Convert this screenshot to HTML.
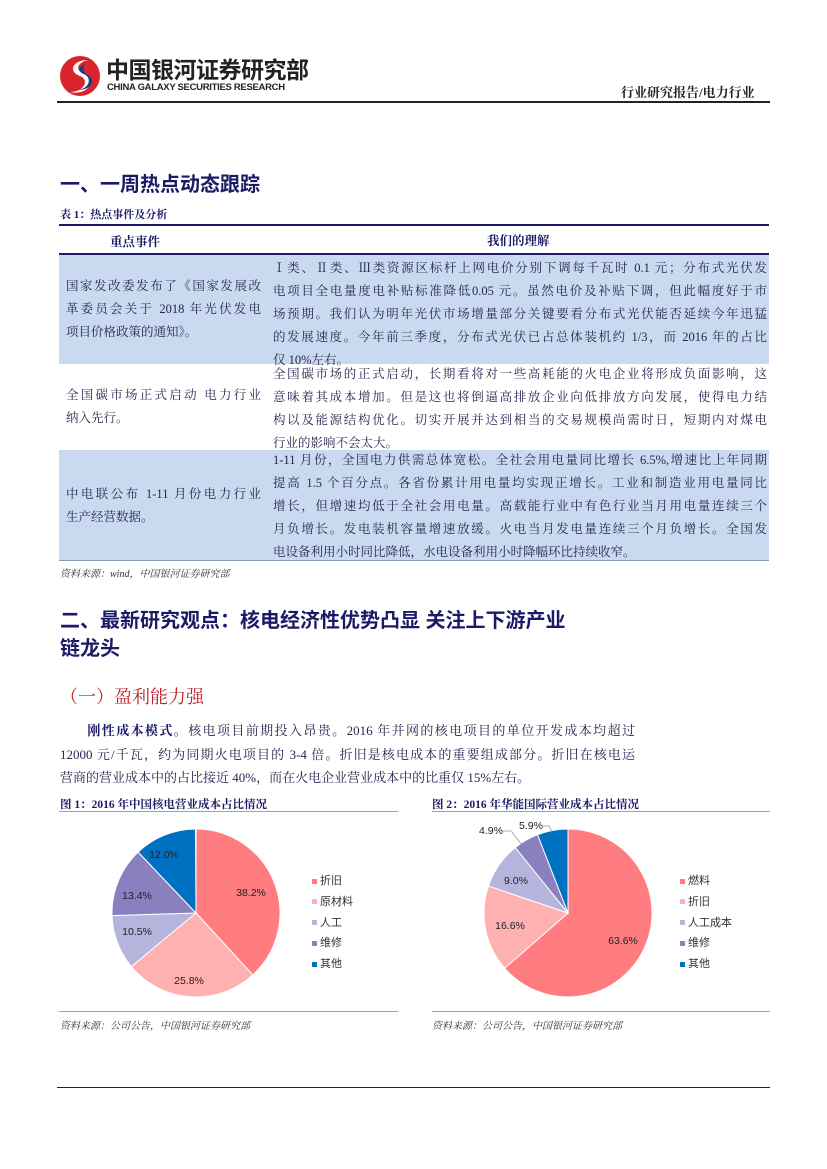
<!DOCTYPE html>
<html><head><meta charset="utf-8">
<style>
body{margin:0;background:#fff;}
#p{position:relative;width:827px;height:1169px;overflow:hidden;font-family:"Liberation Serif","Noto Serif CJK SC","Noto Sans CJK SC",serif;color:#26264f;}
.a{position:absolute;white-space:nowrap;}
.h1{font-family:"Liberation Sans","Noto Sans CJK SC",sans-serif;font-weight:bold;font-size:20px;color:#1a1a66;}
.cell{position:absolute;font-size:12.5px;line-height:23px;text-align:justify;text-align-last:justify;white-space:normal;}
.cell span{display:block;}
.src{font-size:10px;font-style:italic;color:#333;}
.ct{font-size:11.5px;font-weight:bold;color:#1a1a66;}
.lg{font-family:"Liberation Sans","Noto Sans CJK SC",sans-serif;font-size:11px;color:#333;}
</style></head><body><div id="p">
<!-- header -->
<svg class="a" style="left:58px;top:54px" width="44" height="44" viewBox="0 0 44 44">
<ellipse cx="22" cy="22" rx="20" ry="20" fill="#d8242c"/>
<path d="M30 6 C14 6 10 18 22 22 C32 26 26 38 12 38 C30 42 40 26 26 20 C16 16 20 8 30 6Z" fill="#fff"/>
<path d="M28 10 C20 12 20 18 26 20 C34 24 32 34 20 36 C34 36 38 26 30 21 C24 18 24 12 28 10Z" fill="#1a3a8c"/>
</svg>
<div class="a" style="left:106px;top:57px;line-height:26px;font-family:'Liberation Sans','Noto Sans CJK SC',sans-serif;font-weight:bold;font-size:23px;color:#222;letter-spacing:-0.5px">中国银河证券研究部</div>
<div class="a" style="left:107px;top:82px;line-height:11px;font-family:'Liberation Sans',sans-serif;font-weight:bold;font-size:9.5px;color:#222;letter-spacing:-0.3px">CHINA GALAXY SECURITIES RESEARCH</div>
<div class="a" style="left:621px;top:82px;font-weight:bold;font-size:13px;color:#222">行业研究报告/电力行业</div>
<div class="a" style="left:57px;top:101px;width:713px;height:2px;background:#222"></div>

<div class="a h1" style="left:60px;top:168px">一、一周热点动态跟踪</div>
<div class="a" style="left:60px;top:206px;font-size:11px;font-weight:bold;color:#1a1a66">表 1：热点事件及分析</div>
<div class="a" style="left:59px;top:224px;width:710px;height:2px;background:#1a1a66"></div>
<div class="a" style="left:110px;top:232px;font-size:12.5px;font-weight:bold;color:#1a1a66">重点事件</div>
<div class="a" style="left:487px;top:231px;font-size:12.5px;font-weight:bold;color:#1a1a66">我们的理解</div>
<div class="a" style="left:59px;top:253px;width:710px;height:2px;background:#1a1a66"></div>
<div class="a" style="left:59px;top:255px;width:710px;height:109px;background:#c9d9ef"></div>
<div class="a" style="left:59px;top:450px;width:710px;height:110px;background:#c9d9ef"></div>
<div class="a" style="left:59px;top:560px;width:710px;height:1px;background:#8899bb"></div>

<div class="cell" style="left:66px;top:275px;width:195px"><span>国家发改委发布了《国家发展改</span><span>革委员会关于 2018 年光伏发电</span><span style="text-align-last:left">项目价格政策的通知》。</span></div>
<div class="cell" style="left:273px;top:257px;width:494px"><span>Ⅰ类、Ⅱ类、Ⅲ类资源区标杆上网电价分别下调每千瓦时 0.1 元；分布式光伏发</span><span>电项目全电量度电补贴标准降低0.05 元。虽然电价及补贴下调，但此幅度好于市</span><span>场预期。我们认为明年光伏市场增量部分关键要看分布式光伏能否延续今年迅猛</span><span>的发展速度。今年前三季度，分布式光伏已占总体装机约 1/3，而 2016 年的占比</span><span style="text-align-last:left">仅 10%左右。</span></div>

<div class="cell" style="left:66px;top:384px;width:195px"><span>全国碳市场正式启动  电力行业</span><span style="text-align-last:left">纳入先行。</span></div>
<div class="cell" style="left:273px;top:363px;width:494px"><span>全国碳市场的正式启动，长期看将对一些高耗能的火电企业将形成负面影响，这</span><span>意味着其成本增加。但是这也将倒逼高排放企业向低排放方向发展，使得电力结</span><span>构以及能源结构优化。切实开展并达到相当的交易规模尚需时日，短期内对煤电</span><span style="text-align-last:left">行业的影响不会太大。</span></div>

<div class="cell" style="left:66px;top:483px;width:195px"><span>中电联公布 1-11 月份电力行业</span><span style="text-align-last:left">生产经营数据。</span></div>
<div class="cell" style="left:273px;top:449px;width:494px"><span>1-11 月份，全国电力供需总体宽松。全社会用电量同比增长 6.5%,增速比上年同期</span><span>提高 1.5 个百分点。各省份累计用电量均实现正增长。工业和制造业用电量同比</span><span>增长，但增速均低于全社会用电量。高载能行业中有色行业当月用电量连续三个</span><span>月负增长。发电装机容量增速放缓。火电当月发电量连续三个月负增长。全国发</span><span style="text-align-last:left">电设备利用小时同比降低，水电设备利用小时降幅环比持续收窄。</span></div>
<div class="a src" style="left:60px;top:565px">资料来源：wind，中国银河证券研究部</div>

<div class="a h1" style="left:60px;top:604px">二、最新研究观点：核电经济性优势凸显  关注上下游产业</div>
<div class="a h1" style="left:60px;top:632px">链龙头</div>
<div class="a" style="left:60px;top:683px;font-size:18px;color:#c0202a">（一）盈利能力强</div>
<div class="a" style="left:60px;top:719px;width:575px;font-size:13px;line-height:23.5px;white-space:normal;text-align:justify">
<span style="display:block;text-align-last:justify">&emsp;&emsp;<b style="color:#1a1a66">刚性成本模式。</b>核电项目前期投入昂贵。2016 年并网的核电项目的单位开发成本均超过</span>
<span style="display:block;text-align-last:justify">12000 元/千瓦，约为同期火电项目的 3-4 倍。折旧是核电成本的重要组成部分。折旧在核电运</span>
<span style="display:block">营商的营业成本中的占比接近 40%，而在火电企业营业成本中的比重仅 15%左右。</span></div>

<div class="a ct" style="left:60px;top:796px">图 1：2016 年中国核电营业成本占比情况</div>
<div class="a ct" style="left:432px;top:796px">图 2：2016 年华能国际营业成本占比情况</div>
<div class="a" style="left:59px;top:811px;width:339px;height:1px;background:#9a9acc"></div>
<div class="a" style="left:432px;top:811px;width:338px;height:1px;background:#9a9acc"></div>
<div class="a" style="left:59px;top:1011px;width:339px;height:1px;background:#9a9acc"></div>
<div class="a" style="left:432px;top:1011px;width:338px;height:1px;background:#9a9acc"></div>
<div class="a src" style="left:60px;top:1017px">资料来源：公司公告，中国银河证券研究部</div>
<div class="a src" style="left:432px;top:1017px">资料来源：公司公告，中国银河证券研究部</div>

<svg class="a" style="left:0;top:0" width="827" height="1169" id="sv">
<g id="g1"></g><g id="g2"></g>
<g font-family="Liberation Sans, sans-serif" font-size="10.5" fill="#222">
<text x="251" y="896" text-anchor="middle">38.2%</text>
<text x="189" y="984" text-anchor="middle">25.8%</text>
<text x="137" y="935" text-anchor="middle">10.5%</text>
<text x="137" y="899" text-anchor="middle">13.4%</text>
<text x="164" y="858" text-anchor="middle">12.0%</text>
<text x="623" y="944" text-anchor="middle">63.6%</text>
<text x="510" y="929" text-anchor="middle">16.6%</text>
<text x="516" y="884" text-anchor="middle">9.0%</text>
<text x="491" y="834" text-anchor="middle">4.9%</text>
<text x="531" y="829" text-anchor="middle">5.9%</text>
</g>
<polyline points="503,831 511,831 522,845" fill="none" stroke="#999" stroke-width="0.8"/>
<polyline points="543,826 549,826 552,832" fill="none" stroke="#999" stroke-width="0.8"/>
</svg>
<div class="a lg" style="left:312px;top:871px;line-height:20.8px">
<div><span style="display:inline-block;width:5px;height:5px;background:#ff7c80;margin-right:3px;vertical-align:middle"></span>折旧</div>
<div><span style="display:inline-block;width:5px;height:5px;background:#ffb0b0;margin-right:3px;vertical-align:middle"></span>原材料</div>
<div><span style="display:inline-block;width:5px;height:5px;background:#b4b4dc;margin-right:3px;vertical-align:middle"></span>人工</div>
<div><span style="display:inline-block;width:5px;height:5px;background:#8a80c0;margin-right:3px;vertical-align:middle"></span>维修</div>
<div><span style="display:inline-block;width:5px;height:5px;background:#0070c0;margin-right:3px;vertical-align:middle"></span>其他</div>
</div>
<div class="a lg" style="left:680px;top:871px;line-height:20.8px">
<div><span style="display:inline-block;width:5px;height:5px;background:#ff7c80;margin-right:3px;vertical-align:middle"></span>燃料</div>
<div><span style="display:inline-block;width:5px;height:5px;background:#ffb0b0;margin-right:3px;vertical-align:middle"></span>折旧</div>
<div><span style="display:inline-block;width:5px;height:5px;background:#b4b4dc;margin-right:3px;vertical-align:middle"></span>人工成本</div>
<div><span style="display:inline-block;width:5px;height:5px;background:#8a80c0;margin-right:3px;vertical-align:middle"></span>维修</div>
<div><span style="display:inline-block;width:5px;height:5px;background:#0070c0;margin-right:3px;vertical-align:middle"></span>其他</div>
</div>

<div class="a" style="left:57px;top:1087px;width:713px;height:1px;background:#1a1a66"></div>
</div>
<script>
var cols=["#ff7c80","#ffb0b0","#b4b4dc","#8a80c0","#0070c0"];
function pie(id,cx,cy,r,vals){
 var g=document.getElementById(id),a=0,s="";
 vals.forEach(function(v,i){
  var a1=a+v/100*2*Math.PI;
  var x0=cx+r*Math.sin(a),y0=cy-r*Math.cos(a),x1=cx+r*Math.sin(a1),y1=cy-r*Math.cos(a1);
  s+='<path d="M'+cx+','+cy+' L'+x0+','+y0+' A'+r+','+r+' 0 '+(v>50?1:0)+' 1 '+x1+','+y1+' Z" fill="'+cols[i]+'" stroke="#fff" stroke-width="1"/>';
  a=a1;});
 g.innerHTML=s;
}
pie("g1",196,913,84,[38.2,25.8,10.5,13.4,12.0]);
pie("g2",568,913,84,[63.6,16.6,9.0,4.9,5.9]);
</script>
</body></html>
